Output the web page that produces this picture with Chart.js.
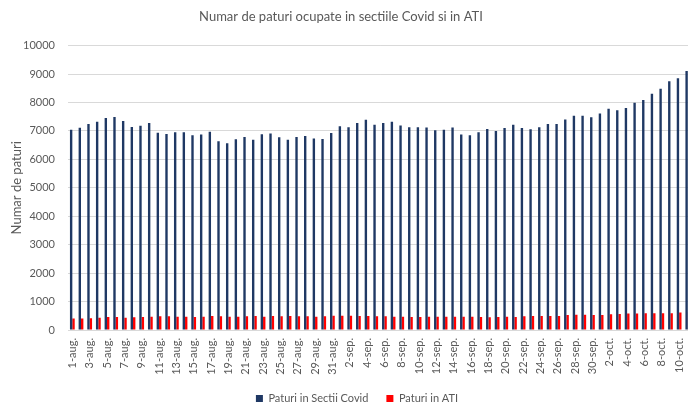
<!DOCTYPE html>
<html>
<head>
<meta charset="utf-8">
<script src="https://cdn.jsdelivr.net/npm/chart.js@4/dist/chart.umd.min.js"></script>
<style>
  html, body { margin: 0; padding: 0; background: #fff; overflow: hidden; }
  canvas { display: block; }
</style>
</head>
<body>
<canvas id="chart" width="709" height="403"></canvas>
<script>
// zile: 1 aug - 11 oct
const days = [
  '1-aug.', '2-aug.', '3-aug.', '4-aug.', '5-aug.', '6-aug.', '7-aug.', '8-aug.', '9-aug.', '10-aug.',
  '11-aug.', '12-aug.', '13-aug.', '14-aug.', '15-aug.', '16-aug.', '17-aug.', '18-aug.', '19-aug.', '20-aug.',
  '21-aug.', '22-aug.', '23-aug.', '24-aug.', '25-aug.', '26-aug.', '27-aug.', '28-aug.', '29-aug.', '30-aug.',
  '31-aug.', '1-sep.', '2-sep.', '3-sep.', '4-sep.', '5-sep.', '6-sep.', '7-sep.', '8-sep.', '9-sep.',
  '10-sep.', '11-sep.', '12-sep.', '13-sep.', '14-sep.', '15-sep.', '16-sep.', '17-sep.', '18-sep.', '19-sep.',
  '20-sep.', '21-sep.', '22-sep.', '23-sep.', '24-sep.', '25-sep.', '26-sep.', '27-sep.', '28-sep.', '29-sep.',
  '30-sep.', '1-oct.', '2-oct.', '3-oct.', '4-oct.', '5-oct.', '6-oct.', '7-oct.', '8-oct.', '9-oct.',
  '10-oct.', '11-oct.'
];

const covidBeds = [
  7040, 7110, 7240, 7320, 7450, 7490, 7350, 7140, 7180, 7280,
  6940, 6890, 6950, 6950, 6850, 6870, 6970, 6640, 6570, 6710,
  6790, 6690, 6880, 6910, 6780, 6690, 6790, 6820, 6730, 6720,
  6930, 7160, 7130, 7280, 7390, 7220, 7280, 7320, 7190, 7130,
  7130, 7120, 7020, 7040, 7120, 6870, 6850, 6950, 7070, 7000,
  7100, 7220, 7100, 7060, 7130, 7240, 7240, 7400, 7530, 7530,
  7480, 7610, 7780, 7730, 7810, 7990, 8090, 8310, 8480, 8750,
  8850, 9110
];

const atiBeds = [
  400, 400, 410, 434, 458, 458, 434, 446, 458, 470,
  482, 482, 470, 470, 458, 470, 494, 482, 470, 470,
  482, 494, 470, 494, 482, 494, 482, 482, 470, 482,
  505, 505, 505, 494, 494, 482, 482, 470, 470, 458,
  458, 470, 470, 470, 470, 470, 470, 458, 446, 458,
  470, 458, 482, 494, 494, 494, 494, 528, 540, 540,
  528, 528, 552, 564, 576, 576, 587, 587, 587, 587,
  611, 620
];

const seriesNames = ['Paturi in Sectii Covid', 'Paturi in ATI'];
const axisTitle = 'Numar de paturi';
const chartTitle = 'Numar de paturi ocupate in sectiile Covid si in ATI';

const grey = '#595959';
const font = 'Lato, "Open Sans", sans-serif';

// graficul e taiat in dreapta, titlul ramane centrat pe partea vizibila
const titleShift = {
  id: 'titleShift',
  afterLayout(chart) {
    chart.titleBlock.left -= 16;
    chart.titleBlock.right -= 16;
  }
};

new Chart(document.getElementById('chart'), {
  type: 'bar',
  data: {
    labels: days,
    datasets: [
      { label: seriesNames[0], data: covidBeds, backgroundColor: '#1f3864',
        categoryPercentage: 0.55, barPercentage: 1.0 },
      { label: seriesNames[1], data: atiBeds, backgroundColor: '#ff0000',
        categoryPercentage: 0.55, barPercentage: 1.0 }
    ]
  },
  plugins: [titleShift],
  options: {
    responsive: false,
    animation: false,
    layout: { padding: { top: 8, right: 0, left: 5, bottom: -11 } },
    plugins: {
      title: {
        display: true,
        text: chartTitle,
        color: grey,
        font: { family: font, size: 13, weight: 'normal' },
        padding: { top: 1, bottom: 21 }
      },
      legend: {
        position: 'bottom',
        labels: {
          color: grey,
          font: { family: font, size: 11 },
          boxWidth: 7,
          boxHeight: 7,
          padding: 18
        }
      },
      tooltip: { enabled: false }
    },
    scales: {
      x: {
        grid: { display: false, drawTicks: false },
        border: { color: '#d9d9d9' },
        afterFit: s => { s.height = 45; },
        ticks: {
          color: grey,
          font: { family: font, size: 11 },
          autoSkip: false,
          minRotation: 90,
          maxRotation: 90,
          padding: 8,
          callback: (v, i) => (i % 2 === 0 ? days[i] : '')
        }
      },
      y: {
        min: 0,
        max: 10000,
        grid: { color: '#d9d9d9', drawTicks: false },
        border: { display: false },
        afterFit: s => { s.width = 63; },
        ticks: {
          stepSize: 1000,
          color: grey,
          font: { family: font, size: 11 },
          padding: 13,
          callback: v => String(v)
        },
        title: {
          display: true,
          text: axisTitle,
          color: grey,
          font: { family: font, size: 13 },
          padding: { top: 4, bottom: 2 }
        }
      }
    }
  }
});
</script>
</body>
</html>
